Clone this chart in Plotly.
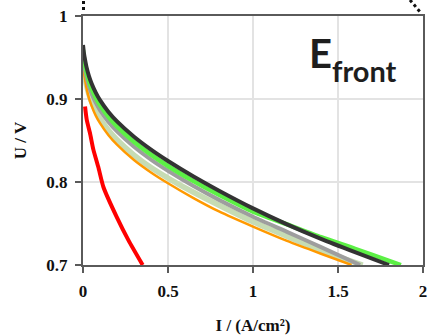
import plotly.graph_objects as go

# ---- data ----
red_I = [0.012, 0.022, 0.041, 0.061, 0.09, 0.12, 0.198, 0.267, 0.351]
red_U = [0.891, 0.875, 0.859, 0.839, 0.818, 0.794, 0.758, 0.730, 0.700]

black_I = [0, 0.005, 0.01, 0.02, 0.035, 0.05, 0.075, 0.1, 0.15, 0.2, 0.3, 0.4, 0.5, 0.65, 0.8, 1.0, 1.2, 1.4, 1.6, 1.8]
black_U = [0.965, 0.956, 0.9495, 0.939, 0.9276, 0.919, 0.9076, 0.8986, 0.8844, 0.873, 0.8545, 0.839, 0.8253, 0.8066, 0.7895, 0.7682, 0.749, 0.7315, 0.7155, 0.700]

green_I = [0, 0.005, 0.01, 0.02, 0.035, 0.05, 0.075, 0.1, 0.15, 0.2, 0.3, 0.4, 0.5, 0.65, 0.8, 1.0, 1.2, 1.4, 1.6, 1.8, 1.87]
green_U = [0.959, 0.950, 0.9435, 0.933, 0.9216, 0.913, 0.9016, 0.8926, 0.8784, 0.867, 0.8485, 0.833, 0.8193, 0.8011, 0.7845, 0.7642, 0.749, 0.7335, 0.7195, 0.705, 0.700]

gray_I = [0, 0.005, 0.01, 0.02, 0.035, 0.05, 0.075, 0.1, 0.15, 0.2, 0.3, 0.4, 0.5, 0.65, 0.8, 1.0, 1.2, 1.4, 1.63]
gray_U = [0.952, 0.944, 0.9375, 0.927, 0.9156, 0.907, 0.8956, 0.8866, 0.8724, 0.861, 0.8425, 0.827, 0.8135, 0.7952, 0.7785, 0.7582, 0.740, 0.7215, 0.700]

sage_I = [0, 0.005, 0.01, 0.02, 0.035, 0.05, 0.075, 0.1, 0.15, 0.2, 0.3, 0.4, 0.5, 0.65, 0.8, 1.0, 1.2, 1.4, 1.645]
sage_U = [0.950, 0.938, 0.929, 0.917, 0.9056, 0.897, 0.8856, 0.8766, 0.8624, 0.851, 0.8325, 0.8175, 0.8048, 0.7876, 0.772, 0.752, 0.7345, 0.7175, 0.700]

orange_I = [0, 0.005, 0.01, 0.02, 0.035, 0.05, 0.075, 0.1, 0.15, 0.2, 0.3, 0.4, 0.5, 0.65, 0.8, 1.0, 1.2, 1.4, 1.58]
orange_U = [0.945, 0.934, 0.926, 0.914, 0.901, 0.892, 0.880, 0.871, 0.8564, 0.845, 0.8265, 0.8115, 0.7985, 0.7806, 0.7645, 0.7462, 0.729, 0.7135, 0.700]

x_ticks = [0, 0.5, 1, 1.5, 2]
x_tick_text = ["0", "0.5", "1", "1.5", "2"]
y_ticks = [0.7, 0.8, 0.9, 1.0]
y_tick_text = ["0.7", "0.8", "0.9", "1"]

series = [
    ("sage", sage_I, sage_U, "#c6dcb4", 5.5),
    ("orange", orange_I, orange_U, "#ff9900", 2.5),
    ("gray", gray_I, gray_U, "#9e9e9e", 4),
    ("green", green_I, green_U, "#5cf045", 4.5),
    ("black", black_I, black_U, "#333333", 4),
    ("red", red_I, red_U, "#ff0000", 4),
]

fig = go.Figure()
for name, xs, ys, col, w in series:
    fig.add_trace(go.Scatter(x=xs, y=ys, mode="lines", name=name,
                             line=dict(color=col, width=w, shape="spline", smoothing=0.6),
                             showlegend=False, hoverinfo="skip"))

tickfont = dict(family="Liberation Serif", size=17, color="#111111")
axcol = "#5a5a5a"
common = dict(showgrid=True, gridcolor="#e3e3e3", gridwidth=2, showline=True, linecolor=axcol,
              linewidth=2, mirror=True, ticks="outside", ticklen=6, tickwidth=2, tickcolor=axcol,
              tickfont=tickfont, zeroline=False, automargin=False, ticklabelstandoff=4,
              ticklabeloverflow="allow")
fig.update_xaxes(range=[0, 2], tickvals=x_ticks, ticktext=["<b>%s</b>" % t for t in x_tick_text],
                 title=dict(text="<b>I / (A/cm²)</b>", font=tickfont, standoff=21), **common)
fig.update_yaxes(range=[0.7, 1.0], tickvals=y_ticks, ticktext=["<b>%s</b>" % t for t in y_tick_text],
                 title=dict(text="<b>U / V</b>", font=tickfont, standoff=15), **common)

fig.update_layout(
    width=430, height=335,
    margin=dict(l=83, r=7, t=16, b=70),
    paper_bgcolor="white", plot_bgcolor="white",
    font=dict(family="Liberation Serif", size=17, color="#111111"),
)

# E_front label
fig.add_annotation(xref="paper", yref="paper", x=(307 - 83) / 340, y=(265 - 79) / 249,
                   xanchor="left", yanchor="bottom", text="<b>E</b>", showarrow=False,
                   font=dict(family="Lato", size=40, color="#1e1e1e"))
fig.add_annotation(xref="paper", yref="paper", x=(330 - 83) / 340, y=(265 - 90) / 249,
                   xanchor="left", yanchor="bottom", text="<b>front</b>", showarrow=False,
                   font=dict(family="Lato", size=29, color="#1e1e1e"))

# small dotted fragments at the top edge
fig.add_shape(type="line", xref="paper", yref="paper",
              x0=(83.5 - 83) / 340, x1=(83.5 - 83) / 340, y0=(265 - 1) / 249, y1=(265 - 13) / 249,
              line=dict(color="#111111", width=3, dash="dot"))
fig.add_shape(type="line", xref="paper", yref="paper",
              x0=(410 - 83) / 340, x1=(421 - 83) / 340, y0=(265 - 0) / 249, y1=(265 - 13) / 249,
              line=dict(color="#111111", width=3, dash="dot"))

fig.write_html("out.html", config={"displayModeBar": False},
               post_script="document.body.style.margin='0px';document.body.style.overflow='hidden';")
